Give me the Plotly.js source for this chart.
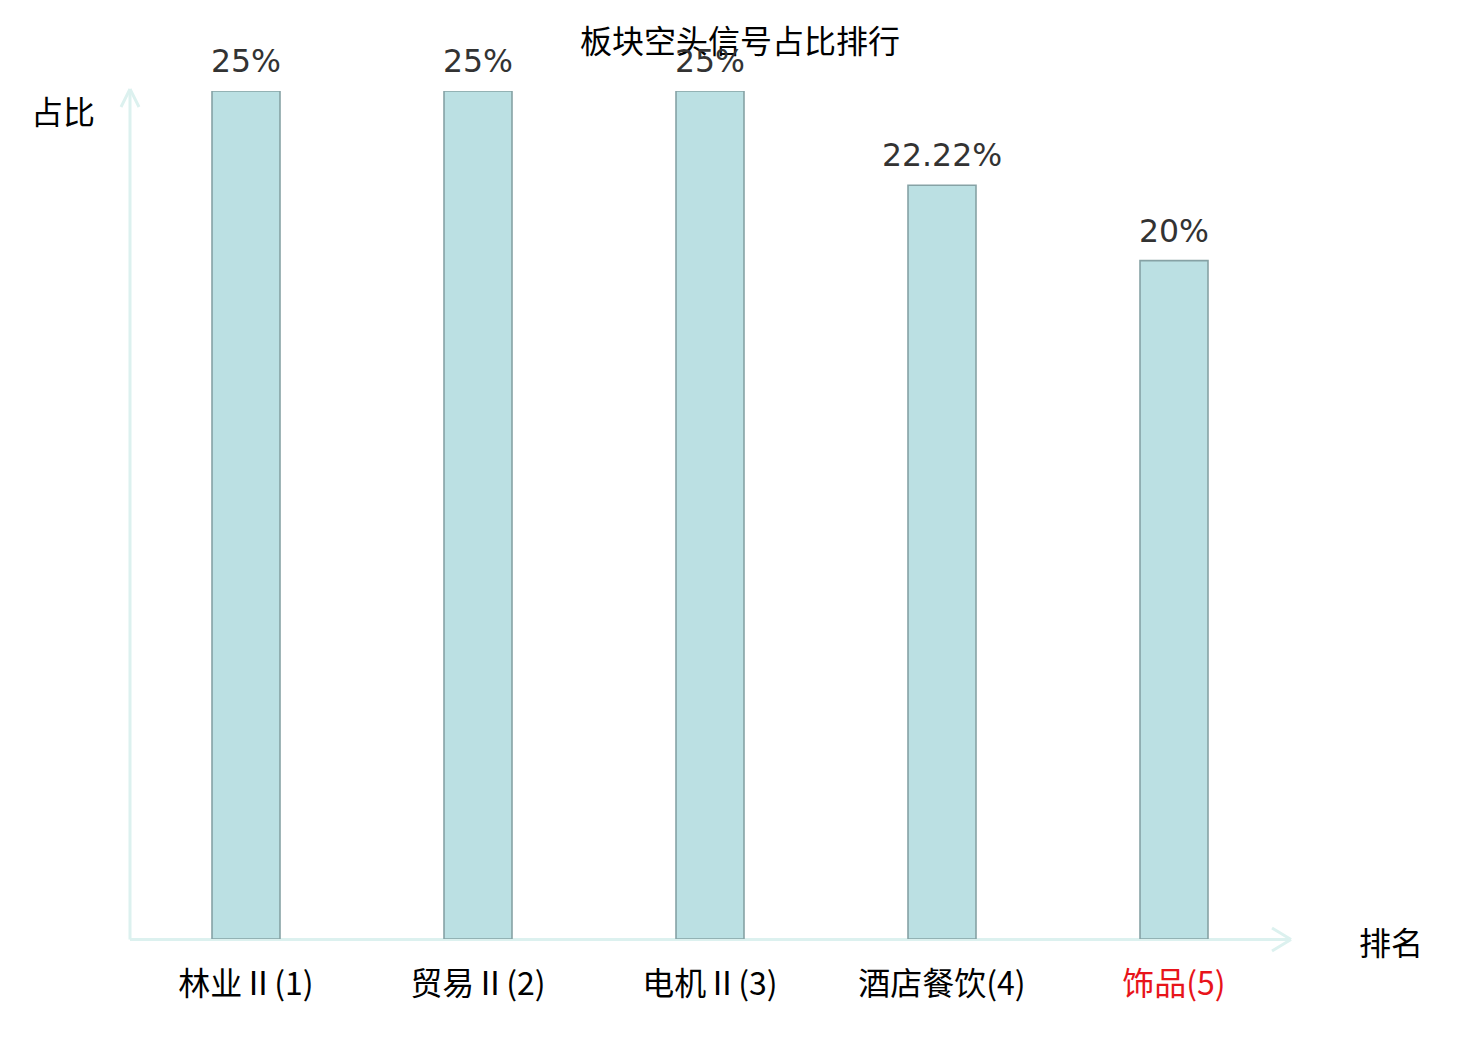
<!DOCTYPE html>
<html>
<head>
<meta charset="utf-8">
<script src="https://cdn.plot.ly/plotly-3.0.1.min.js"></script>
<style>
html,body{margin:0;padding:0;background:#fff;}
#chart{width:1480px;height:1040px;}
</style>
</head>
<body>
<div id="chart"></div>
<script>
// ---- data ----
const categories = ['林业Ⅱ(1)', '贸易Ⅱ(2)', '电机Ⅱ(3)', '酒店餐饮(4)', '饰品(5)'];
const values = [25, 25, 25, 22.22, 20];
const valueLabels = ['25%', '25%', '25%', '22.22%', '20%'];
const highlightIndex = 4;
const chartTitle = '板块空头信号占比排行';
const yAxisLabel = '占比';
const xAxisLabel = '排名';

// ---- layout geometry (pixels) ----
const W = 1480, H = 1040;
const plotL = 130, plotR = 1290, plotT = 91, plotB = 939;
const px2x = p => (p - plotL) / (plotR - plotL);
const px2y = p => (plotB - p) / (plotB - plotT);

const axisColor = '#dcf1ef';
const cjk = '"Noto Sans CJK SC", "DejaVu Sans", sans-serif';
const xs = categories.map((c, i) => i);
const tickText = categories.map((c, i) => i === highlightIndex ? '<span style="color:#e8141a">' + c + '</span>' : c);

const trace = {
  type: 'bar',
  x: xs,
  y: values,
  width: 0.293,
  marker: {color: '#bbe0e3', line: {color: '#86a2a5', width: 1.6}},
  hoverinfo: 'skip'
};

const annotations = values.map((v, i) => ({
  x: xs[i], y: v, xref: 'x', yref: 'y',
  text: valueLabels[i], showarrow: false,
  yanchor: 'bottom', yshift: 10,
  font: {family: '"DejaVu Sans", sans-serif', size: 31.5, color: '#333333'}
}));
annotations.push({
  xref: 'paper', yref: 'paper', x: px2x(63), y: px2y(110),
  xanchor: 'center', yanchor: 'middle', showarrow: false,
  text: yAxisLabel, font: {family: cjk, size: 32, color: '#000'}
});
annotations.push({
  xref: 'paper', yref: 'paper', x: px2x(1391), y: px2y(941),
  xanchor: 'center', yanchor: 'middle', showarrow: false,
  text: xAxisLabel, font: {family: cjk, size: 32, color: '#000'}
});

const line = (x0, y0, x1, y1) => ({
  type: 'line', xref: 'paper', yref: 'paper',
  x0: px2x(x0), y0: px2y(y0), x1: px2x(x1), y1: px2y(y1),
  line: {color: axisColor, width: 3}, layer: 'below'
});
const shapes = [
  line(130, 939.5, 1291, 939.5),
  line(1272, 928, 1291, 939.5),
  line(1272, 951, 1291, 939.5),
  line(130, 939.5, 130, 89),
  line(121, 107, 130, 89),
  line(139, 107, 130, 89)
];

const layout = {
  width: W, height: H,
  margin: {l: plotL, r: W - plotR, t: plotT, b: H - plotB},
  paper_bgcolor: '#ffffff', plot_bgcolor: '#ffffff',
  showlegend: false,
  title: {
    text: chartTitle, x: 0.5, xanchor: 'center', xref: 'container',
    y: 1 - 42 / H, yanchor: 'middle', yref: 'container',
    font: {family: cjk, size: 32, color: '#000'}
  },
  xaxis: {
    range: [-0.5, categories.length - 0.5],
    tickvals: xs, ticktext: tickText,
    showgrid: false, zeroline: false, showline: false, ticks: '',
    ticklabelstandoff: 23,
    tickfont: {family: cjk, size: 32, color: '#000'}
  },
  yaxis: {
    range: [0, 25],
    showgrid: false, zeroline: false, showline: false, ticks: '',
    showticklabels: false
  },
  annotations: annotations,
  shapes: shapes
};

Plotly.newPlot('chart', [trace], layout, {displayModeBar: false, staticPlot: true});
</script>
</body>
</html>
